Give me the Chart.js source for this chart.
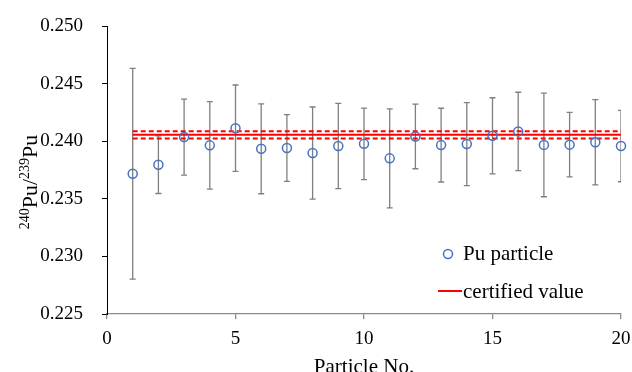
<!DOCTYPE html>
<html>
<head>
<meta charset="utf-8">
<script src="https://cdn.jsdelivr.net/npm/chart.js@4.4.1/dist/chart.umd.min.js"></script>
<style>
  html, body { margin: 0; padding: 0; background: #ffffff; }
  #wrap { width: 632px; height: 372px; }
</style>
</head>
<body>
<div id="wrap"><canvas id="c" width="632" height="372"></canvas></div>
<script>
// Measured 240Pu/239Pu isotope ratios of individual particles
const particleNo = [1, 2, 3, 4, 5, 6, 7, 8, 9, 10, 11, 12, 13, 14, 15, 16, 17, 18, 19, 20];
const ratio = [0.23718, 0.23796, 0.24036, 0.23964, 0.24113, 0.23934, 0.23941, 0.23897, 0.23959, 0.23977,
               0.23851, 0.24041, 0.23966, 0.23975, 0.24047, 0.24085, 0.23968, 0.23970, 0.23991, 0.23958];
// Expanded uncertainty of each particle (symmetric error bars)
const uncertainty = [0.00915, 0.0025, 0.0033, 0.0038, 0.00375, 0.0039, 0.0029, 0.0040, 0.0037, 0.0031,
                     0.0043, 0.0028, 0.0032, 0.0036, 0.0033, 0.0034, 0.0045, 0.0028, 0.0037, 0.0031];
// Certified reference value and its uncertainty band
const certifiedValue = 0.24055;
const certifiedUncertainty = 0.00032;
const certifiedSpan = [1, 20];
// Axis ticks
const xTicks = [0, 5, 10, 15, 20];
const yTicks = [0.225, 0.230, 0.235, 0.240, 0.245, 0.250];

const SERIF = "'Liberation Serif', 'Times New Roman', serif";
const BLUE = '#4472C4';
const RED = '#FF0000';

const points = particleNo.map((x, i) => ({ x, y: ratio[i] }));
const lineAt = v => certifiedSpan.map(x => ({ x, y: v }));

// Error bars drawn through the scales before the markers
const errorBars = {
  id: 'errorBars',
  beforeDatasetsDraw(chart) {
    const { ctx, chartArea, scales: { x, y } } = chart;
    ctx.save();
    ctx.beginPath();
    ctx.rect(chartArea.left, chartArea.top - 2, chartArea.right - chartArea.left, chartArea.bottom - chartArea.top + 4);
    ctx.clip();
    ctx.strokeStyle = '#7F7F7F';
    ctx.lineWidth = 1.3;
    particleNo.forEach((p, i) => {
      const px = x.getPixelForValue(p);
      const top = y.getPixelForValue(ratio[i] + uncertainty[i]);
      const bot = y.getPixelForValue(ratio[i] - uncertainty[i]);
      ctx.beginPath();
      ctx.moveTo(px, top); ctx.lineTo(px, bot);
      ctx.moveTo(px - 3, top); ctx.lineTo(px + 3, top);
      ctx.moveTo(px - 3, bot); ctx.lineTo(px + 3, bot);
      ctx.stroke();
    });
    ctx.restore();
  }
};

// Axis titles (with superscript mass numbers) and the in-plot legend
const annotations = {
  id: 'annotations',
  afterDraw(chart) {
    const { ctx, chartArea } = chart;
    ctx.save();
    ctx.fillStyle = '#000000';
    ctx.textBaseline = 'alphabetic';

    // y title: 240Pu/239Pu, rotated
    const big = '22px ' + SERIF, small = '14px ' + SERIF;
    const parts = [['240', small, -8], ['Pu', big, 0], ['/', big, 0], ['239', small, -8], ['Pu', big, 0]];
    let total = 0;
    parts.forEach(p => { ctx.font = p[1]; total += ctx.measureText(p[0]).width; });
    const cy = (chartArea.top + chartArea.bottom) / 2 + 12;
    ctx.translate(37, cy + total / 2);
    ctx.rotate(-Math.PI / 2);
    let off = 0;
    parts.forEach(p => {
      ctx.font = p[1];
      ctx.textAlign = 'left';
      ctx.fillText(p[0], off, p[2]);
      off += ctx.measureText(p[0]).width;
    });
    ctx.setTransform(1, 0, 0, 1, 0, 0);

    // x title
    ctx.font = '21px ' + SERIF;
    ctx.textAlign = 'center';
    ctx.fillText('Particle No.', (chartArea.left + chartArea.right) / 2, chart.height + 0.5);

    // legend
    const ds = chart.data.datasets;
    const lx = chartArea.right - 158;
    ctx.font = '21px ' + SERIF;
    ctx.textAlign = 'left';
    ctx.textBaseline = 'middle';
    ctx.strokeStyle = BLUE;
    ctx.lineWidth = 1.5;
    ctx.beginPath();
    ctx.arc(lx - 15, 254, 4.5, 0, Math.PI * 2);
    ctx.stroke();
    ctx.fillText(ds[0].label, lx, 254);
    ctx.strokeStyle = RED;
    ctx.lineWidth = 2;
    ctx.beginPath();
    ctx.moveTo(lx - 25, 291); ctx.lineTo(lx - 1, 291);
    ctx.stroke();
    ctx.fillText(ds[1].label, lx, 292);
    ctx.restore();
  }
};

new Chart(document.getElementById('c'), {
  type: 'scatter',
  data: {
    datasets: [
      {
        label: 'Pu particle',
        data: points,
        showLine: false,
        pointStyle: 'circle',
        pointRadius: 4.5,
        pointHoverRadius: 4.5,
        pointBorderWidth: 1.5,
        borderColor: BLUE,
        backgroundColor: 'rgba(0,0,0,0)',
        clip: false,
        order: 0
      },
      {
        label: 'certified value',
        data: lineAt(certifiedValue),
        showLine: true,
        borderColor: RED,
        borderWidth: 2,
        pointRadius: 0,
        order: 1
      },
      {
        label: 'upper',
        data: lineAt(certifiedValue + certifiedUncertainty),
        showLine: true,
        borderColor: RED,
        borderWidth: 2,
        borderDash: [5, 3],
        pointRadius: 0,
        order: 2
      },
      {
        label: 'lower',
        data: lineAt(certifiedValue - certifiedUncertainty),
        showLine: true,
        borderColor: RED,
        borderWidth: 2,
        borderDash: [5, 3],
        pointRadius: 0,
        order: 3
      }
    ]
  },
  options: {
    responsive: false,
    animation: false,
    events: [],
    layout: { padding: { left: 0, right: 11, top: 26, bottom: 0 } },
    plugins: { legend: { display: false }, tooltip: { enabled: false } },
    scales: {
      x: {
        type: 'linear',
        min: xTicks[0],
        max: xTicks[xTicks.length - 1],
        afterFit(s) { s.height = 58; s.paddingLeft = 0; s.paddingRight = 0; },
        afterBuildTicks(s) { s.ticks = xTicks.map(v => ({ value: v })); },
        grid: { display: true, drawOnChartArea: false, drawTicks: true, tickLength: 5, color: '#8A8A8A', lineWidth: 1.3 },
        border: { display: true, color: '#8A8A8A', width: 1.3 },
        ticks: {
          padding: 9,
          color: '#000000',
          maxRotation: 0,
          font: { family: SERIF, size: 19, lineHeight: 1.2 },
          callback: v => String(v)
        },
        title: { display: false }
      },
      y: {
        type: 'linear',
        min: yTicks[0],
        max: yTicks[yTicks.length - 1],
        afterFit(s) { s.width = 107; s.paddingTop = 0; s.paddingBottom = 0; },
        afterBuildTicks(s) { s.ticks = yTicks.map(v => ({ value: v })); },
        grid: { display: true, drawOnChartArea: false, drawTicks: true, tickLength: 5, color: '#000000', lineWidth: 1 },
        border: { display: true, color: '#000000', width: 1 },
        ticks: {
          padding: 19,
          color: '#000000',
          font: { family: SERIF, size: 19, lineHeight: 1.2 },
          callback: v => v.toFixed(3)
        },
        title: { display: false }
      }
    }
  },
  plugins: [errorBars, annotations]
});
</script>
</body>
</html>
